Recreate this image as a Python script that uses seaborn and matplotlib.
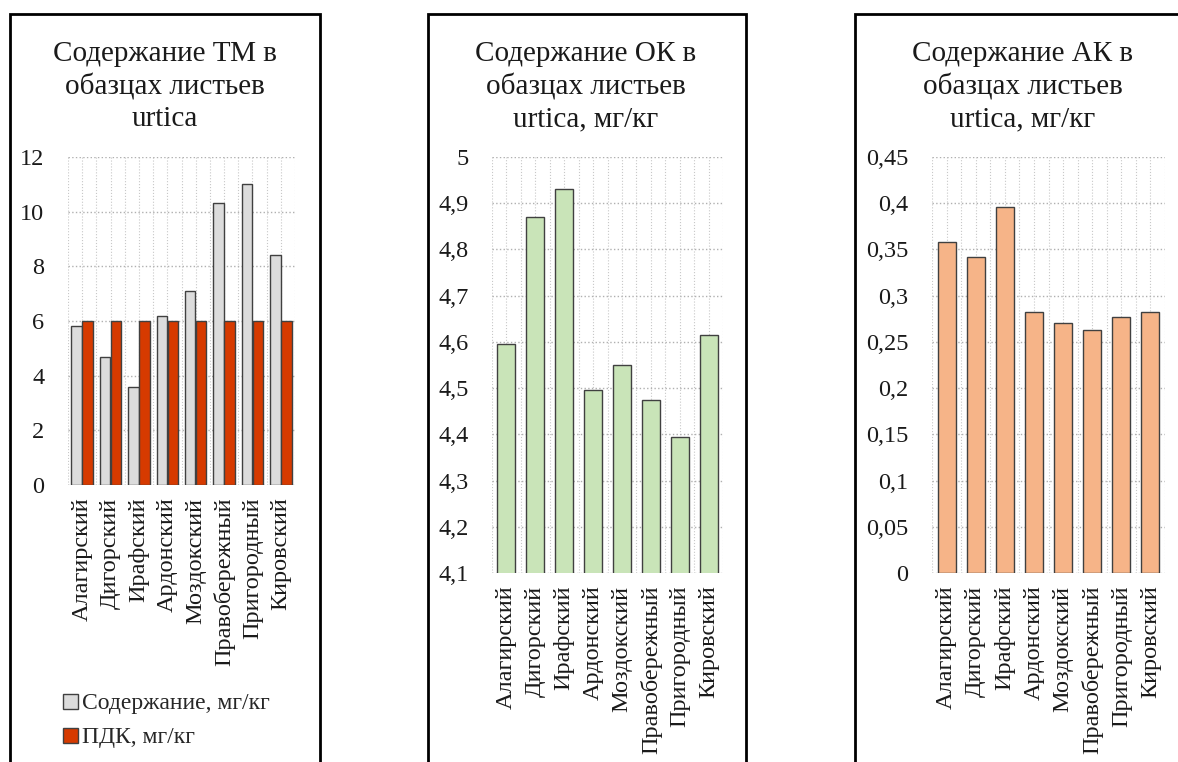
import pandas as pd
import seaborn as sns
import matplotlib.pyplot as plt
from matplotlib.patches import Rectangle, Patch
from matplotlib.ticker import MultipleLocator, FuncFormatter

# Data
districts = ["Алагирский", "Дигорский", "Ирафский", "Ардонский",
             "Моздокский", "Правобережный", "Пригородный", "Кировский"]
tm_content = [5.8, 4.7, 3.6, 6.2, 7.1, 10.3, 11.0, 8.4]
tm_pdk = [6, 6, 6, 6, 6, 6, 6, 6]
ok_content = [4.595, 4.87, 4.93, 4.495, 4.55, 4.475, 4.395, 4.615]
ak_content = [0.358, 0.342, 0.396, 0.282, 0.270, 0.263, 0.277, 0.282]

series_names = ["Содержание, мг/кг", "ПДК, мг/кг"]
titles = ["Содержание ТМ в\nобазцах листьев\nurtica",
          "Содержание ОК в\nобазцах листьев\nurtica, мг/кг",
          "Содержание АК в\nобазцах листьев\nurtica, мг/кг"]

sns.set_theme(style="white")
plt.rcParams["font.family"] = ["Liberation Serif", "DejaVu Serif"]

fig = plt.figure(figsize=(11.78, 7.62), dpi=100)

# Panel frames (Excel chart borders)
for x0, x1 in [(10, 320), (428, 746), (855, 1190)]:
    fig.patches.append(Rectangle((x0 / 1178, -0.05), (x1 - x0) / 1178, 1.05 - 14 / 762,
                                 transform=fig.transFigure, fill=False,
                                 edgecolor="black", linewidth=2.0, zorder=0))

ax1 = fig.add_axes([68 / 1178, 1 - 485 / 762, 227 / 1178, 328 / 762])
ax2 = fig.add_axes([492 / 1178, 1 - 573 / 762, 231 / 1178, 416 / 762])
ax3 = fig.add_axes([932 / 1178, 1 - 573 / 762, 233 / 1178, 416 / 762])

comma = FuncFormatter(lambda v, p: ("%g" % round(v, 3)).replace(".", ","))

# Panel 1: grouped bars
df1 = pd.DataFrame({
    "Район": districts * 2,
    "Значение": tm_content + tm_pdk,
    "Серия": [series_names[0]] * 8 + [series_names[1]] * 8,
})
sns.barplot(data=df1, x="Район", y="Значение", hue="Серия", ax=ax1,
            palette=["#dcdcdc", "#d63a00"], saturation=1, width=0.78, gap=0.05,
            edgecolor="#404040", linewidth=1.0, legend=False, zorder=3)
ax1.set_ylim(0, 12)
ax1.yaxis.set_major_locator(MultipleLocator(2))

# Panel 2
sns.barplot(x=districts, y=ok_content, ax=ax2, color="#c9e4b8", saturation=1,
            width=0.62, edgecolor="#404040", linewidth=1.0, zorder=3)
ax2.set_ylim(4.1, 5.0)
ax2.yaxis.set_major_locator(MultipleLocator(0.1))

# Panel 3
sns.barplot(x=districts, y=ak_content, ax=ax3, color="#f6b488", saturation=1,
            width=0.62, edgecolor="#404040", linewidth=1.0, zorder=3)
ax3.set_ylim(0, 0.45)
ax3.yaxis.set_major_locator(MultipleLocator(0.05))

# titles are centred on the chart frame, not on the plot area
title_x = [0.427, 0.407, 0.39]

for ax, title, tx in zip([ax1, ax2, ax3], titles, title_x):
    ax.set_xlim(-0.5, 7.5)
    ax.set_xlabel("")
    ax.set_ylabel("")
    ax.yaxis.set_major_formatter(comma)
    ax.xaxis.set_minor_locator(MultipleLocator(0.5))
    ax.grid(True, which="major", axis="y", color="#b0b0b0", linestyle=":", linewidth=1.0)
    ax.grid(True, which="both", axis="x", color="#c8c8c8", linestyle=":", linewidth=0.8)
    ax.set_axisbelow(True)
    for s in ax.spines.values():
        s.set_visible(False)
    ax.tick_params(axis="both", length=0, labelsize=17.5, colors="#1a1a1a")
    ax.tick_params(axis="y", pad=17)
    ax.tick_params(axis="x", pad=9)
    ax.set_xticks(range(len(districts)))
    ax.set_xticklabels(districts, rotation=90, fontsize=17.5)
    ax.set_title(title, fontsize=21, pad=22, linespacing=1.3, color="#1a1a1a", x=tx)

# Legend for panel 1
handles = [Patch(facecolor="#dcdcdc", edgecolor="#404040"),
           Patch(facecolor="#d63a00", edgecolor="#404040")]
fig.legend(handles, series_names, loc="upper left",
           bbox_to_anchor=(54 / 1178, 1 - 684 / 762), frameon=False,
           fontsize=17, handlelength=0.6, handleheight=0.6, handletextpad=0.2,
           labelspacing=0.55, borderaxespad=0)

fig.savefig("out.png", dpi=100)
